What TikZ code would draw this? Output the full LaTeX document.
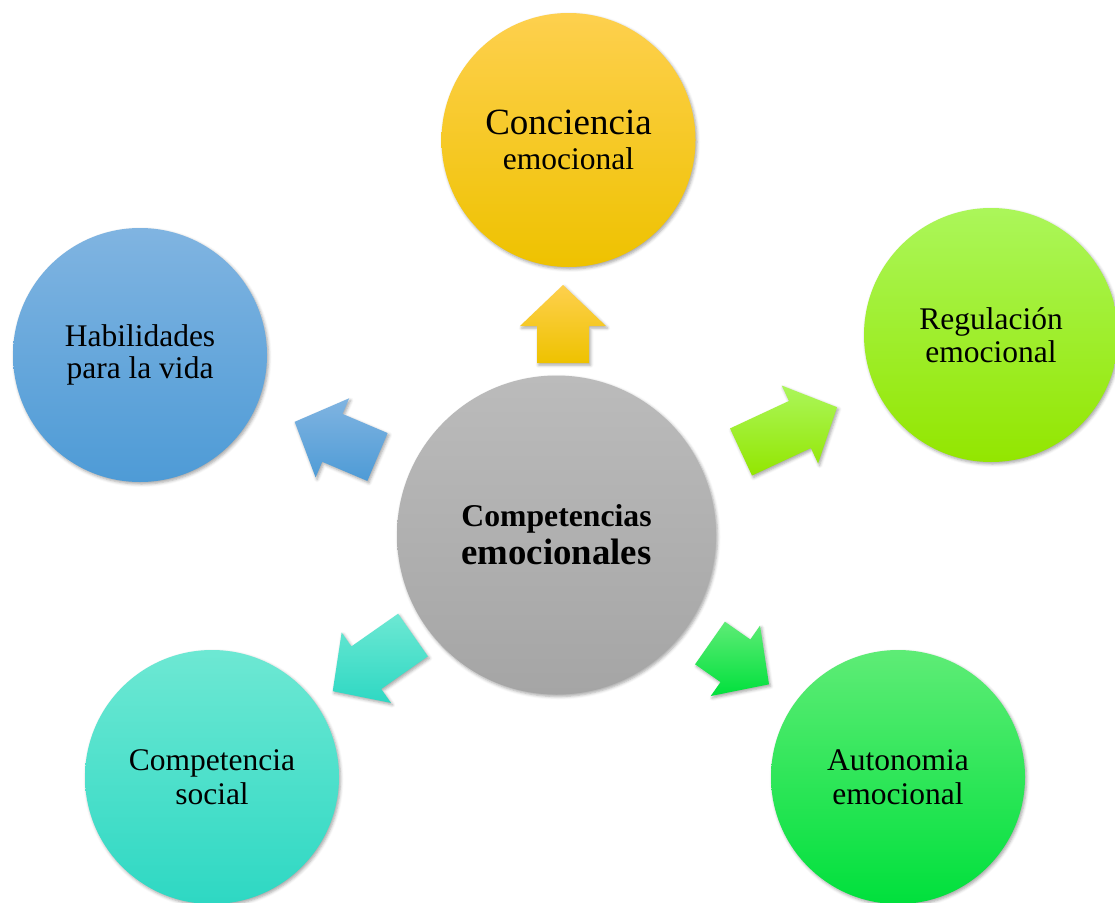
\documentclass[tikz,border=0pt]{standalone}
\usepackage{fontspec}
\setmainfont{Liberation Serif}
\usetikzlibrary{calc,shadows.blur}

% fill colours (top / middle / bottom of each gradient)
\definecolor{grayT}{HTML}{BBBBBB}
\definecolor{grayB}{HTML}{A5A5A5}
\definecolor{yelT}{HTML}{FED04E}
\definecolor{yelM}{HTML}{FFCC00}
\definecolor{yelB}{HTML}{EEC200}
\definecolor{limT}{HTML}{ABF65A}
\definecolor{limM}{HTML}{A0F310}
\definecolor{limB}{HTML}{93E600}
\definecolor{bluT}{HTML}{80B4E1}
\definecolor{bluM}{HTML}{68A9DE}
\definecolor{bluB}{HTML}{4E9BD6}
\definecolor{teaT}{HTML}{6DE8D3}
\definecolor{teaM}{HTML}{47E3CE}
\definecolor{teaB}{HTML}{2ED8C3}
\definecolor{grnT}{HTML}{5EEC76}
\definecolor{grnM}{HTML}{2CE85A}
\definecolor{grnB}{HTML}{00E03C}

\tikzset{
  softshadow/.style={blur shadow={shadow xshift=1.5pt, shadow yshift=-2pt,
      shadow blur radius=3pt, shadow opacity=35}},
  bubble/.style={circle, minimum size=254pt, inner sep=0pt, align=center,
      font=\fontsize{31.5}{33.5}\selectfont, softshadow},
  hub/.style={circle, minimum size=319pt, inner sep=0pt, align=center,
      font=\bfseries\fontsize{31.7}{38}\selectfont, softshadow,
      top color=grayT, bottom color=grayB},
  yellowfill/.style={top color=yelT, middle color=yelM, bottom color=yelB},
  limefill/.style={top color=limT, middle color=limM, bottom color=limB},
  bluefill/.style={top color=bluT, middle color=bluM, bottom color=bluB},
  tealfill/.style={top color=teaT, middle color=teaM, bottom color=teaB},
  greenfill/.style={top color=grnT, middle color=grnM, bottom color=grnB},
}

% block arrow: style, tail coordinate, direction angle, length
\newcommand\radialarrow[4]{%
  \path[#1, softshadow]
    ($(#2)+(#3+90:26)$) --
    ($(#2)+(#3+90:26)+(#3:#4-41)$) --
    ($(#2)+(#3+90:43)+(#3:#4-41)$) --
    ($(#2)+(#3:#4)$) --
    ($(#2)+(#3-90:43)+(#3:#4-41)$) --
    ($(#2)+(#3-90:26)+(#3:#4-41)$) --
    ($(#2)+(#3-90:26)$) -- cycle;}

\begin{document}
\begin{tikzpicture}[x=1pt, y=1pt]
  \useasboundingbox (0,0) rectangle (1115,-902);

  % arrow tails
  \coordinate (tConc) at (563,-363);
  \coordinate (tRegu) at (741,-452);
  \coordinate (tHabi) at (377.5,-457);
  \coordinate (tSoci) at (413,-635);
  \coordinate (tAuto) at (710,-643);

  \radialarrow{yellowfill}{tConc}{90}{78}
  \radialarrow{limefill}{tRegu}{25}{106}
  \radialarrow{bluefill}{tHabi}{157}{90}
  \radialarrow{tealfill}{tSoci}{215}{98}
  \radialarrow{greenfill}{tAuto}{-35}{72}

  % central circle
  \node[hub] (hub) at (556.5,-535)
    {Competencias\\{\fontsize{36.8}{38}\selectfont emocionales}};

  % surrounding circles
  \node[bubble, yellowfill] (conc) at (568.5,-140)
    {{\fontsize{37}{35}\selectfont Conciencia}\\[1.5pt]emocional};
  \node[bubble, limefill] (regu) at (991,-335)
    {Regulación\\emocional};
  \node[bubble, bluefill] (habi) at (140,-355)
    {Habilidades\\[-1.5pt]para la vida};
  \node[bubble, tealfill] (soci) at (212,-777)
    {Competencia\\social};
  \node[bubble, greenfill] (auto) at (898,-777)
    {Autonomia\\emocional};
\end{tikzpicture}
\end{document}
